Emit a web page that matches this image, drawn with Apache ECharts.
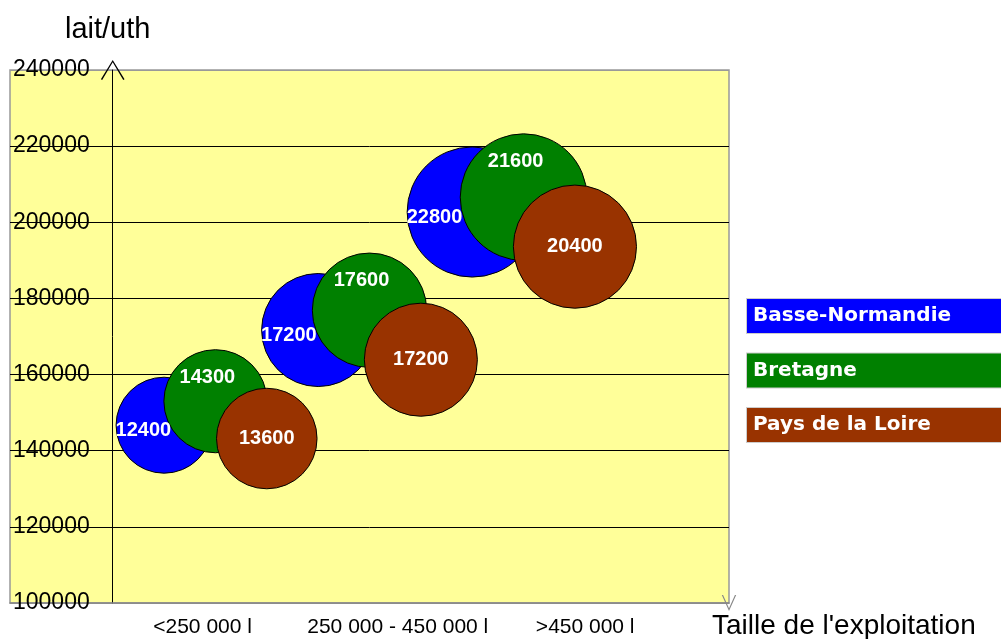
<!DOCTYPE html>
<html>
<head>
<meta charset="utf-8">
<script src="https://cdn.jsdelivr.net/npm/echarts@6/dist/echarts.min.js"></script>
<style>
  html, body { margin: 0; padding: 0; background: #fff; }
  #chart { width: 1001px; height: 639px; }
</style>
</head>
<body>
<div id="chart"></div>
<script>
// regions (legend order)
const regions = ['Basse-Normandie', 'Bretagne', 'Pays de la Loire']
const colors = ['#0000FF', '#008000', '#993300']
// x slot of each bubble, lait/uth (y), bubble value (size + label)
const xNormandie = [1, 4, 7]
const yNormandie = [146700, 171700, 202700]
const vNormandie = [12400, 17200, 22800]
const xBretagne = [2, 5, 8]
const yBretagne = [153000, 176900, 206600]
const vBretagne = [14300, 17600, 21600]
const xLoire = [3, 6, 9]
const yLoire = [143200, 163900, 193600]
const vLoire = [13600, 17200, 20400]
// x axis category labels and where they sit
const sizeLabels = ['<250 000 l', '250 000 - 450 000 l', '>450 000 l']
const sizeLabelPos = [1.75, 5.55, 9.2]

const toData = (xs, ys, vs) => xs.map((x, i) => [x, ys[i], vs[i]])

const chart = echarts.init(document.getElementById('chart'))

const bubble = function (name, color, data, label) {
  return {
    name: name,
    type: 'scatter',
    data: data,
    symbolSize: function (d) { return 0.862 * Math.sqrt(d[2]) },
    itemStyle: { color: color, opacity: 1, borderColor: '#000', borderWidth: 1 },
    label: Object.assign({
      show: true,
      color: '#fff',
      fontFamily: 'Liberation Sans, Arial, sans-serif',
      fontWeight: 'bold',
      fontSize: 20,
      formatter: function (p) { return p.value[2] }
    }, label),
    emphasis: { disabled: true }
  }
}

const option = {
  animation: false,
  grid: {
    left: 10, right: 272, top: 70, bottom: 36,
    outerBoundsMode: 'none',
    containLabel: false,
    show: true,
    backgroundColor: '#FFFF99',
    borderColor: '#999',
    borderWidth: 1.5
  },
  legend: {
    orient: 'vertical',
    left: 731,
    top: 293,
    itemGap: 18.5,
    icon: 'rect',
    itemWidth: 6,
    itemHeight: 34,
    itemStyle: { opacity: 0, borderWidth: 0 },
    selectedMode: false,
    data: regions.map((r, i) => ({
      name: r,
      textStyle: { backgroundColor: colors[i] }
    })),
    textStyle: {
      color: '#fff',
      fontFamily: 'DejaVu Sans, Verdana, sans-serif',
      fontWeight: 'bold',
      fontSize: 20,
      width: 262,
      height: 34,
      lineHeight: 34,
      padding: [0, 0, 0, 6],
      borderColor: '#ccc',
      borderWidth: 1
    }
  },
  xAxis: {
    type: 'value',
    min: -2,
    max: 12,
    splitLine: { show: false },
    axisTick: { show: false },
    axisLine: {
      show: true,
      lineStyle: { color: '#888', width: 1.5 },
      symbol: ['none', 'path://M0,0 L20,9 L0,18 L0,16.4 L16.5,9 L0,1.6 Z'],
      symbolSize: [16, 20],
      symbolOffset: [0, 0]
    },
    axisLabel: {
      customValues: sizeLabelPos,
      formatter: function (v) { return sizeLabels[sizeLabelPos.indexOf(v)] || '' },
      color: '#000',
      fontFamily: 'Liberation Sans, Arial, sans-serif',
      fontSize: 21,
      margin: 14
    },
    name: "Taille de l'exploitation",
    nameLocation: 'end',
    nameGap: -17,
    nameTextStyle: {
      color: '#000',
      fontFamily: 'Liberation Sans, Arial, sans-serif',
      fontSize: 28,
      align: 'left',
      verticalAlign: 'top',
      padding: [9, 0, 0, 0]
    }
  },
  yAxis: [
    {
      type: 'value',
      min: 100000,
      max: 240000,
      interval: 20000,
      axisLine: { show: false, onZero: false },
      axisTick: { show: false },
      axisLabel: {
        inside: true,
        margin: 3,
        color: '#000',
        fontFamily: 'Liberation Sans, Arial, sans-serif',
        fontSize: 23,
        formatter: function (v) { return String(v) }
      },
      splitLine: {
        show: true,
        lineStyle: {
          color: ['#999', '#000', '#000', '#000', '#000', '#000', '#000', '#999'],
          width: 1
        }
      }
    },
    {
      type: 'value',
      min: 100000,
      max: 240000,
      interval: 20000,
      axisLine: {
        show: true,
        onZero: true,
        lineStyle: { color: '#000', width: 1 },
        symbol: ['none', 'path://M0,18 L11,0 L22,18 L20.8,18.6 L11,2.2 L1.2,18.6 Z'],
        symbolSize: [26, 20],
        symbolOffset: [0, 0]
      },
      axisTick: { show: false },
      axisLabel: { show: false },
      splitLine: { show: false },
      name: 'lait/uth',
      nameLocation: 'end',
      nameGap: 26,
      nameTextStyle: {
        color: '#000',
        fontFamily: 'Liberation Sans, Arial, sans-serif',
        fontSize: 29,
        align: 'center',
        padding: [0, 10, 0, 0]
      }
    }
  ],
  series: [
    bubble(regions[0], colors[0], toData(xNormandie, yNormandie, vNormandie),
      { position: 'insideLeft', distance: 0, offset: [0, 5] }),
    bubble(regions[1], colors[1], toData(xBretagne, yBretagne, vBretagne),
      { position: 'insideTop', distance: 18, offset: [-8, 0] }),
    bubble(regions[2], colors[2], toData(xLoire, yLoire, vLoire),
      { position: 'inside' })
  ]
}

chart.setOption(option)
</script>
</body>
</html>
